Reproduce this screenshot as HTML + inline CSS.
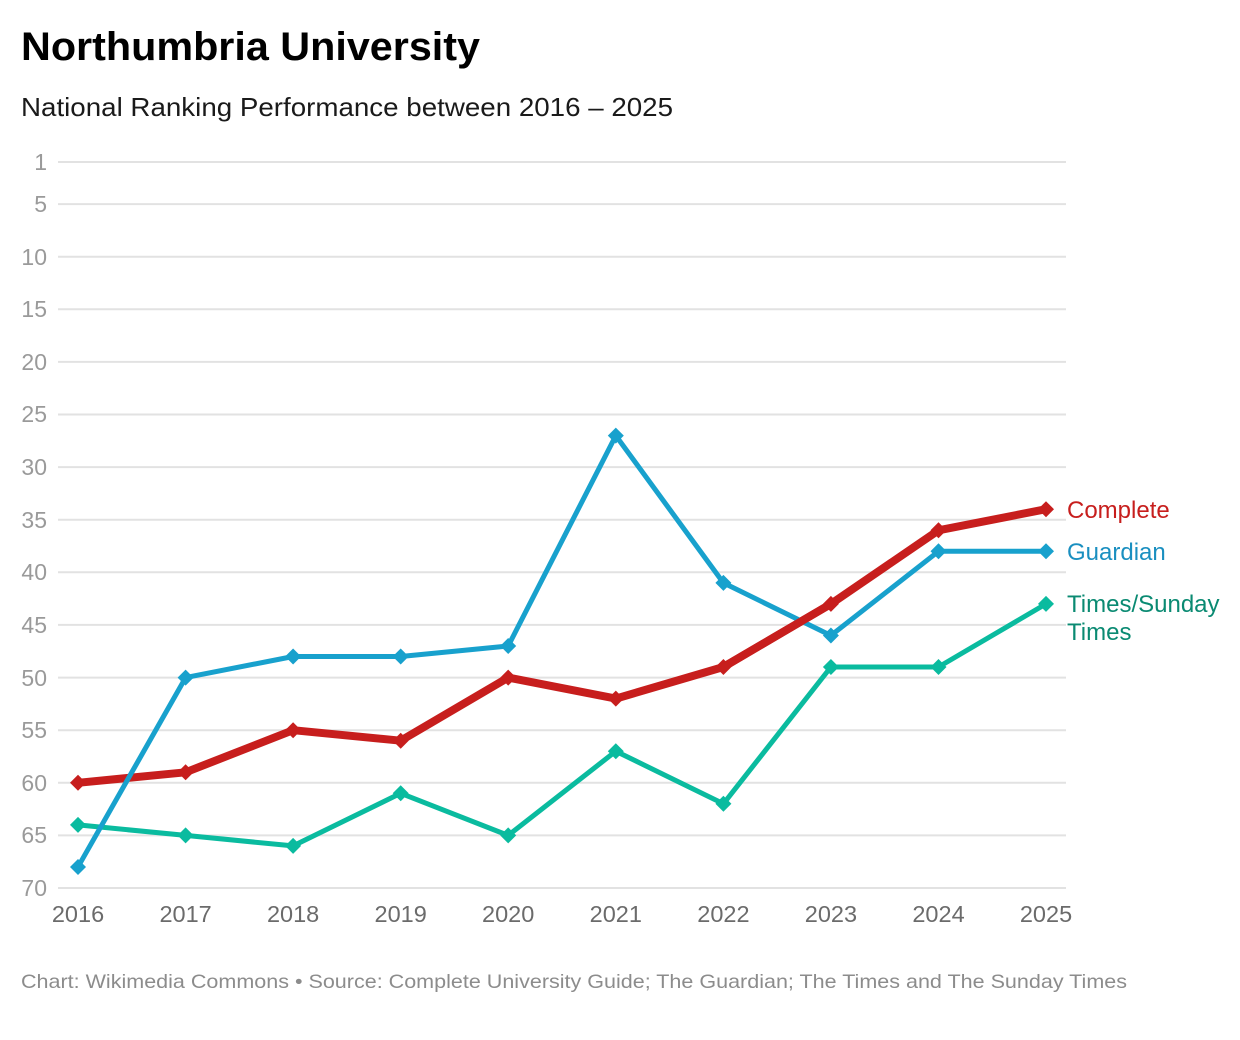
<!DOCTYPE html>
<html><head><meta charset="utf-8"><style>
html,body{margin:0;padding:0;background:#fff;}
svg{display:block;font-family:"Liberation Sans",Arial,sans-serif;}
</style></head><body>
<svg width="1240" height="1040" viewBox="0 0 1240 1040" xmlns="http://www.w3.org/2000/svg">
<rect width="1240" height="1040" fill="#fff"/>
<text x="21" y="60" font-size="40" font-weight="bold" fill="#000" textLength="459" lengthAdjust="spacingAndGlyphs">Northumbria University</text>
<text x="21" y="116" font-size="26" fill="#1a1a1a" textLength="652" lengthAdjust="spacingAndGlyphs">National Ranking Performance between 2016 – 2025</text>
<g stroke="#e2e2e2" stroke-width="2">
<line x1="58" x2="1066" y1="162" y2="162"/><line x1="58" x2="1066" y1="204.1" y2="204.1"/>
<line x1="58" x2="1066" y1="256.7" y2="256.7"/><line x1="58" x2="1066" y1="309.3" y2="309.3"/>
<line x1="58" x2="1066" y1="361.9" y2="361.9"/><line x1="58" x2="1066" y1="414.5" y2="414.5"/>
<line x1="58" x2="1066" y1="467.1" y2="467.1"/><line x1="58" x2="1066" y1="519.7" y2="519.7"/>
<line x1="58" x2="1066" y1="572.3" y2="572.3"/><line x1="58" x2="1066" y1="624.9" y2="624.9"/>
<line x1="58" x2="1066" y1="677.6" y2="677.6"/><line x1="58" x2="1066" y1="730.2" y2="730.2"/>
<line x1="58" x2="1066" y1="782.8" y2="782.8"/><line x1="58" x2="1066" y1="835.4" y2="835.4"/>
<line x1="58" x2="1066" y1="888" y2="888"/>
</g>
<g font-size="23" fill="#9a9a9a" text-anchor="end">
<text x="47" y="170">1</text><text x="47" y="212">5</text><text x="47" y="265">10</text>
<text x="47" y="317">15</text><text x="47" y="370">20</text><text x="47" y="422">25</text>
<text x="47" y="475">30</text><text x="47" y="528">35</text><text x="47" y="580">40</text>
<text x="47" y="633">45</text><text x="47" y="686">50</text><text x="47" y="738">55</text>
<text x="47" y="791">60</text><text x="47" y="843">65</text><text x="47" y="896">70</text>
</g>
<g font-size="23.5" fill="#6b6b6b" text-anchor="middle">
<text x="78" y="922">2016</text><text x="185.6" y="922">2017</text><text x="293.1" y="922">2018</text>
<text x="400.7" y="922">2019</text><text x="508.2" y="922">2020</text><text x="615.8" y="922">2021</text>
<text x="723.4" y="922">2022</text><text x="830.9" y="922">2023</text><text x="938.5" y="922">2024</text>
<text x="1046" y="922">2025</text>
</g>
<!-- Times -->
<polyline fill="none" stroke="#0abb9f" stroke-width="5" stroke-linejoin="round" points="78,824.9 185.6,835.4 293.1,845.9 400.7,793.3 508.2,835.4 615.8,751.2 723.4,803.8 830.9,667 938.5,667 1046,603.9"/>
<!-- Complete -->
<polyline fill="none" stroke="#c71e1d" stroke-width="8" stroke-linejoin="round" points="78,782.8 185.6,772.3 293.1,730.2 400.7,740.7 508.2,677.6 615.8,698.6 723.4,667 830.9,603.9 938.5,530.3 1046,509.2"/>
<!-- Guardian -->
<polyline fill="none" stroke="#18a1cd" stroke-width="5" stroke-linejoin="round" points="78,866.95 185.6,677.6 293.1,656.5 400.7,656.5 508.2,646 615.8,435.6 723.4,582.9 830.9,635.5 938.5,551.3 1046,551.3"/>
<line x1="723.4" y1="667" x2="830.9" y2="603.9" stroke="#c71e1d" stroke-width="8" stroke-linecap="round"/>
<g fill="#0abb9f">
<path d="M78,816.9l8,8-8,8-8-8z"/><path d="M185.6,827.4l8,8-8,8-8-8z"/><path d="M293.1,837.9l8,8-8,8-8-8z"/>
<path d="M400.7,785.3l8,8-8,8-8-8z"/><path d="M508.2,827.4l8,8-8,8-8-8z"/><path d="M615.8,743.2l8,8-8,8-8-8z"/>
<path d="M723.4,795.8l8,8-8,8-8-8z"/><path d="M830.9,659l8,8-8,8-8-8z"/><path d="M938.5,659l8,8-8,8-8-8z"/>
<path d="M1046,595.9l8,8-8,8-8-8z"/>
</g>
<g fill="#c71e1d">
<path d="M78,774.8l8,8-8,8-8-8z"/><path d="M185.6,764.3l8,8-8,8-8-8z"/><path d="M293.1,722.2l8,8-8,8-8-8z"/>
<path d="M400.7,732.7l8,8-8,8-8-8z"/><path d="M508.2,669.6l8,8-8,8-8-8z"/><path d="M615.8,690.6l8,8-8,8-8-8z"/>
<path d="M723.4,659l8,8-8,8-8-8z"/><path d="M830.9,595.9l8,8-8,8-8-8z"/><path d="M938.5,522.3l8,8-8,8-8-8z"/>
<path d="M1046,501.2l8,8-8,8-8-8z"/>
</g>
<g fill="#18a1cd">
<path d="M78,858.95l8,8-8,8-8-8z"/><path d="M185.6,669.6l8,8-8,8-8-8z"/><path d="M293.1,648.5l8,8-8,8-8-8z"/>
<path d="M400.7,648.5l8,8-8,8-8-8z"/><path d="M508.2,638l8,8-8,8-8-8z"/><path d="M615.8,427.6l8,8-8,8-8-8z"/>
<path d="M723.4,574.9l8,8-8,8-8-8z"/><path d="M830.9,627.5l8,8-8,8-8-8z"/><path d="M938.5,543.3l8,8-8,8-8-8z"/>
<path d="M1046,543.3l8,8-8,8-8-8z"/>
</g>
<g font-size="24">
<text x="1067" y="518" fill="#c71e1d">Complete</text>
<text x="1067" y="560" fill="#1a8fc0">Guardian</text>
<text x="1067" y="612" fill="#0a8a72">Times/Sunday</text>
<text x="1067" y="640" fill="#0a8a72">Times</text>
</g>
<text x="21" y="988" font-size="19.5" fill="#8c8c8c" textLength="1106" lengthAdjust="spacingAndGlyphs">Chart: Wikimedia Commons • Source: Complete University Guide; The Guardian; The Times and The Sunday Times</text>
</svg>
</body></html>
